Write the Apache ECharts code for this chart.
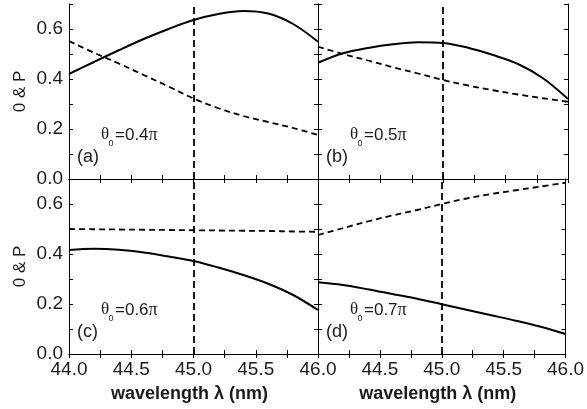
<!DOCTYPE html>
<html>
<head>
<meta charset="utf-8">
<script src="https://cdn.jsdelivr.net/npm/echarts@6/dist/echarts.min.js"></script>
<style>html,body{margin:0;padding:0;background:#fff;}#c{width:587px;height:409px;}</style>
</head>
<body>
<div id="c"></div>
<script>
// wavelength samples (nm)
const wavelength = [44.0, 44.2, 44.4, 44.6, 44.8, 45.0, 45.2, 45.4, 45.6, 45.8, 46.0];
// panel (a) theta0 = 0.4pi
const aSolid  = [0.420, 0.468, 0.515, 0.560, 0.600, 0.636, 0.660, 0.672, 0.662, 0.620, 0.549];
const aDashed = [0.552, 0.505, 0.462, 0.416, 0.370, 0.322, 0.283, 0.252, 0.228, 0.204, 0.176];
// panel (b) theta0 = 0.5pi
const bSolid  = [0.465, 0.503, 0.524, 0.539, 0.547, 0.544, 0.525, 0.496, 0.460, 0.403, 0.320];
const bDashed = [0.529, 0.500, 0.474, 0.447, 0.422, 0.396, 0.374, 0.355, 0.338, 0.323, 0.309];
// panel (c) theta0 = 0.6pi
const cSolid  = [0.416, 0.421, 0.417, 0.406, 0.390, 0.372, 0.346, 0.316, 0.281, 0.236, 0.176];
const cDashed = [0.500, 0.499, 0.498, 0.497, 0.496, 0.495, 0.494, 0.493, 0.492, 0.490, 0.489];
// panel (d) theta0 = 0.7pi
const dSolid  = [0.287, 0.276, 0.259, 0.240, 0.221, 0.199, 0.177, 0.155, 0.133, 0.109, 0.080];
const dDashed = [0.476, 0.503, 0.530, 0.554, 0.576, 0.600, 0.622, 0.640, 0.655, 0.670, 0.685];
// vertical marker
const markerWavelength = 45.0;
// panel texts
const panelLetters = ['(a)', '(b)', '(c)', '(d)'];
const thetaValues = ['=0.4', '=0.5', '=0.6', '=0.7'];
// axes
const xMin = 44.0, xMax = 46.0, xStep = 0.25;
const yMin = 0.0, yMax = 0.7, yStep = 0.1;
const yAxisTitle = '0 & P';
const xAxisTitle = 'wavelength \u03bb (nm)';

const solids = [aSolid, bSolid, cSolid, dSolid];
const dashes = [aDashed, bDashed, cDashed, dDashed];

const FONT = 'Liberation Sans, Arial, sans-serif';
const SERIF = 'Liberation Serif, Times New Roman, serif';
const INK = '#1a1a1a';

const grids = [
  {left: 69, top: 4, width: 249, height: 175},
  {left: 318, top: 4, width: 250, height: 175},
  {left: 69, top: 179, width: 249, height: 175},
  {left: 318, top: 179, width: 250, height: 175}
];

function near(v, s) { return Math.abs(v / s - Math.round(v / s)) < 1e-6; }

const xAxes = [], yAxes = [], series = [];
grids.forEach((g, i) => {
  const isBottom = i >= 2, isLeft = (i % 2 === 0);
  const baseAxis = {
    type: 'value', gridIndex: i, min: xMin, max: xMax, interval: xStep,
    axisLine: {show: true, lineStyle: {color: '#000', width: 1}},
    axisTick: {show: true, inside: true, length: 4, lineStyle: {color: '#000', width: 1}},
    splitLine: {show: false}
  };
  xAxes.push(Object.assign({}, baseAxis, {
    position: 'bottom',
    axisLabel: {
      show: isBottom, interval: 0, margin: 6, fontSize: 19, fontFamily: FONT, color: INK,
      formatter: v => {
        if (!near(v, 0.5)) return '';
        if (!isLeft && Math.abs(v - xMin) < 1e-6) return '';
        return v.toFixed(1);
      }
    },
    name: isBottom ? xAxisTitle : '',
    nameLocation: 'middle', nameGap: 31,
    nameTextStyle: {fontSize: 18, fontWeight: 'bold', fontFamily: FONT, color: INK, padding: [0, 8, 0, 0]}
  }));
  xAxes.push(Object.assign({}, baseAxis, {position: 'top', axisLabel: {show: false}}));
  const baseY = {
    type: 'value', gridIndex: i, min: yMin, max: yMax, interval: yStep,
    axisLine: {show: true, lineStyle: {color: '#000', width: 1}},
    axisTick: {show: true, inside: true, length: 4, lineStyle: {color: '#000', width: 1}},
    splitLine: {show: false}
  };
  yAxes.push(Object.assign({}, baseY, {
    position: 'left',
    axisLabel: {
      show: isLeft, interval: 0, margin: 6, fontSize: 19, fontFamily: FONT, color: INK,
      formatter: v => (Math.round(v * 10) % 2 === 0) ? v.toFixed(1) : ''
    },
    name: isLeft ? yAxisTitle : '',
    nameLocation: 'middle', nameGap: 40,
    nameTextStyle: {fontSize: 17, fontFamily: FONT, color: INK}
  }));
  yAxes.push(Object.assign({}, baseY, {position: 'right', axisLabel: {show: false}}));

  series.push({
    type: 'line', xAxisIndex: 2 * i, yAxisIndex: 2 * i,
    data: wavelength.map((w, k) => [w, solids[i][k]]),
    showSymbol: false, smooth: 0.35, silent: true,
    lineStyle: {color: '#000', width: 2},
    markLine: {
      symbol: ['none', 'none'], silent: true, label: {show: false},
      lineStyle: {color: '#000', width: 1.8, type: [7, 4]},
      data: [{xAxis: markerWavelength}]
    },
    z: 3
  });
  series.push({
    type: 'line', xAxisIndex: 2 * i, yAxisIndex: 2 * i,
    data: wavelength.map((w, k) => [w, dashes[i][k]]),
    showSymbol: false, smooth: 0.35, silent: true,
    lineStyle: {color: '#000', width: 1.8, type: [6, 4]},
    z: 3
  });
});

// panel annotations (positions relative to each panel's grid)
const graphics = [];
grids.forEach((g, i) => {
  const ox = g.left, oy = g.top;
  graphics.push({type: 'text', left: ox + 8, top: oy + 144,
    style: {text: panelLetters[i], fontSize: 18, fontFamily: FONT, fill: INK}});
  graphics.push({type: 'text', left: ox + 32, top: oy + 122,
    style: {text: '\u03b8', fontSize: 17, fontFamily: SERIF, fill: INK}});
  graphics.push({type: 'text', left: ox + 39.5, top: oy + 135,
    style: {text: '0', fontSize: 9, fontFamily: FONT, fill: INK}});
  graphics.push({type: 'text', left: ox + 46, top: oy + 122,
    style: {text: '{n|' + thetaValues[i] + '}{p|\u03c0}',
      rich: {n: {fontSize: 17, fontFamily: FONT, fill: INK, color: INK},
             p: {fontSize: 18, fontFamily: SERIF, fill: INK, color: INK}}}});
});

const chart = echarts.init(document.getElementById('c'), null, {renderer: 'canvas'});
chart.setOption({
  animation: false,
  backgroundColor: '#fff',
  grid: grids.map(g => Object.assign({containLabel: false}, g)),
  xAxis: xAxes,
  yAxis: yAxes,
  series: series,
  graphic: graphics
});
</script>
</body>
</html>
